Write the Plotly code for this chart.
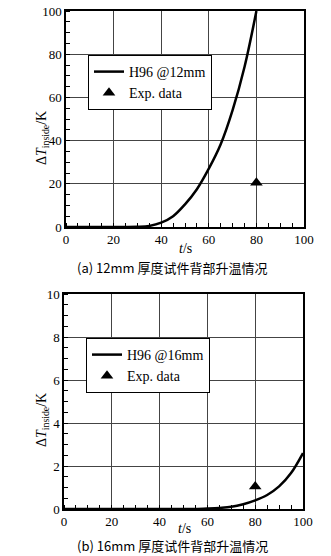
import plotly.graph_objects as go

# Panel (a) 12mm
t_a = [0, 20, 25, 30, 35, 40, 45, 50, 55, 60, 65, 70, 75, 80]
dT_a = [0, 0, 0, 0.1, 0.5, 2.0, 5.0, 10.5, 17.5, 27, 38.3, 54.1, 74.1, 100]
exp_t_a = [80]
exp_dT_a = [20.5]

# Panel (b) 16mm
t_b = [0, 50, 55, 60, 65, 70, 75, 80, 85, 90, 95, 100]
dT_b = [0, 0, 0, 0.02, 0.05, 0.1, 0.22, 0.4, 0.65, 1.05, 1.67, 2.6]
exp_t_b = [80]
exp_dT_b = [1.05]

xticks = [0, 20, 40, 60, 80, 100]
yticks_a = [0, 20, 40, 60, 80, 100]
yticks_b = [0, 2, 4, 6, 8, 10]

W, H = 331, 556
SERIF = "Liberation Serif"
CJK = "Noto Sans CJK SC"

def px(x):
    return x / W

def py(y):
    return 1 - y / H

fig = go.Figure()
fig.add_trace(go.Scatter(x=t_a, y=dT_a, mode="lines", line=dict(color="black", width=2.5, shape="spline", smoothing=1.0),
                         name="H96 @12mm", xaxis="x", yaxis="y", legend="legend"))
fig.add_trace(go.Scatter(x=exp_t_a, y=exp_dT_a, mode="markers",
                         marker=dict(symbol="triangle-up", size=11, color="black"),
                         name="Exp. data", xaxis="x", yaxis="y", legend="legend"))
fig.add_trace(go.Scatter(x=t_b, y=dT_b, mode="lines", line=dict(color="black", width=2.5, shape="spline", smoothing=1.0),
                         name="H96 @16mm", xaxis="x2", yaxis="y2", legend="legend2"))
fig.add_trace(go.Scatter(x=exp_t_b, y=exp_dT_b, mode="markers",
                         marker=dict(symbol="triangle-up", size=11, color="black"),
                         name="Exp. data", xaxis="x2", yaxis="y2", legend="legend2"))

def xax(domain, anchor):
    return dict(domain=domain, anchor=anchor, range=[0, 100], tickvals=xticks,
                showgrid=True, gridcolor="#444", gridwidth=1, zeroline=False,
                showline=True, linecolor="black", linewidth=1.5, mirror=True,
                ticks="", automargin=False, tickfont=dict(family=SERIF, size=13, color="black"),
                minor=dict(dtick=5, ticks="inside", ticklen=4, tickcolor="black", showgrid=False),
                fixedrange=True)

def yax(domain, anchor, rng, vals, mdt):
    return dict(domain=domain, anchor=anchor, range=rng, tickvals=vals,
                showgrid=True, gridcolor="#444", gridwidth=1, zeroline=False,
                showline=True, linecolor="black", linewidth=1.5, mirror=True,
                ticks="", automargin=False, tickfont=dict(family=SERIF, size=13, color="black"),
                minor=dict(dtick=mdt, ticks="inside", ticklen=4, tickcolor="black", showgrid=False),
                fixedrange=True)

fig.update_layout(
    template="none",
    width=W, height=H, margin=dict(l=0, r=0, t=0, b=0, autoexpand=False),
    paper_bgcolor="white", plot_bgcolor="white", showlegend=True,
    xaxis=xax([px(66), px(304)], "y"),
    yaxis=yax([py(227), py(11)], "x", [0, 100], yticks_a, 5),
    xaxis2=xax([px(64), px(303)], "y2"),
    yaxis2=yax([py(509), py(294)], "x2", [0, 10], yticks_b, 0.5),
    legend=dict(x=px(88), y=py(55), xanchor="left", yanchor="top",
                bordercolor="black", borderwidth=1, bgcolor="white",
                font=dict(family=SERIF, size=14, color="black"), tracegroupgap=0),
    legend2=dict(x=px(86), y=py(338), xanchor="left", yanchor="top",
                 bordercolor="black", borderwidth=1, bgcolor="white",
                 font=dict(family=SERIF, size=14, color="black"), tracegroupgap=0),
)

ann = []
def txt(x, y, s, font, size, angle=0):
    ann.append(dict(x=px(x), y=py(y), xref="paper", yref="paper", text=s, showarrow=False,
                    textangle=angle, xanchor="center", yanchor="middle",
                    font=dict(family=font, size=size, color="black")))

txt(42, 138, "Δ<i>T</i><sub>inside</sub>/K", SERIF, 14, -90)
txt(185, 248, "<i>t</i>/s", SERIF, 14)
txt(172, 267, "(a) 12mm 厚度试件背部升温情况", CJK, 13)
txt(42, 420, "Δ<i>T</i><sub>inside</sub>/K", SERIF, 14, -90)
txt(184, 528, "<i>t</i>/s", SERIF, 14)
txt(172, 545, "(b) 16mm 厚度试件背部升温情况", CJK, 13)
fig.update_layout(annotations=ann)

fig.write_html("out.html", config={"displayModeBar": False},
               post_script="document.body.style.margin='0';document.body.style.overflow='hidden';")
